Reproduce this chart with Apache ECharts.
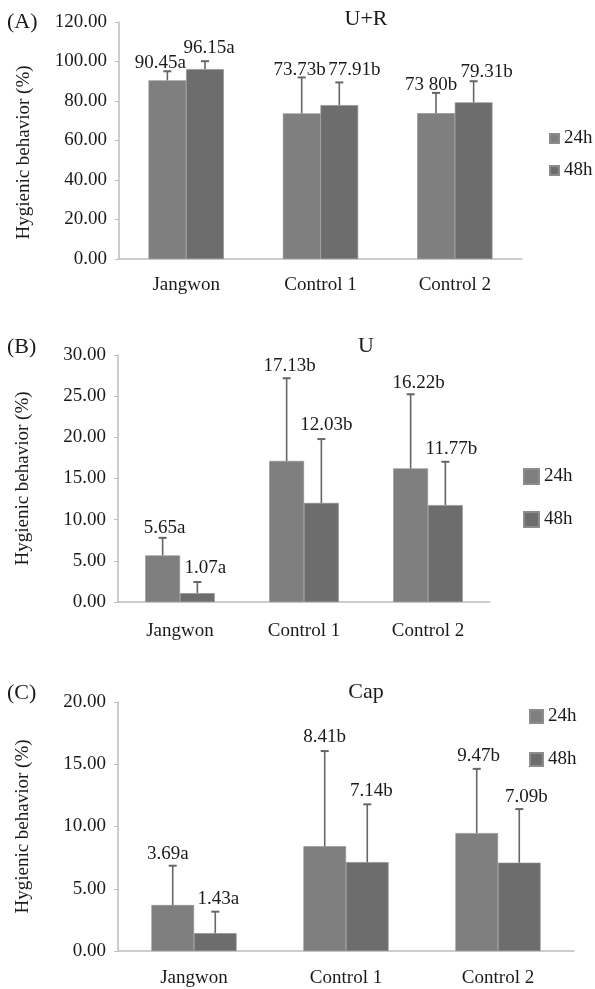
<!DOCTYPE html>
<html>
<head>
<meta charset="utf-8">
<script src="https://cdn.jsdelivr.net/npm/echarts@6/dist/echarts.min.js"></script>
<style>
  html, body { margin: 0; padding: 0; background: #fff; }
  #chart { width: 595px; height: 989px; }
</style>
</head>
<body>
<div id="chart"></div>
<script>
const categories = ['Jangwon', 'Control 1', 'Control 2']
const seriesNames = ['24h', '48h']

// (A) U+R
const meanA24 = [90.45, 73.73, 73.80]
const meanA48 = [96.15, 77.91, 79.31]
const errA24 = [4.6, 18.2, 10.3]
const errA48 = [4.0, 11.5, 10.7]
const labelsA24 = ['90.45a', '73.73b', '73 80b']
const labelsA48 = ['96.15a', '77.91b', '79.31b']

// (B) U
const meanB24 = [5.65, 17.13, 16.22]
const meanB48 = [1.07, 12.03, 11.77]
const errB24 = [2.14, 10.05, 9.01]
const errB48 = [1.36, 7.76, 5.26]
const labelsB24 = ['5.65a', '17.13b', '16.22b']
const labelsB48 = ['1.07a', '12.03b', '11.77b']

// (C) Cap
const meanC24 = [3.69, 8.41, 9.47]
const meanC48 = [1.43, 7.14, 7.09]
const errC24 = [3.16, 7.65, 5.16]
const errC48 = [1.73, 4.64, 4.31]
const labelsC24 = ['3.69a', '8.41b', '9.47b']
const labelsC48 = ['1.43a', '7.14b', '7.09b']

const FONT = '"Liberation Serif", "Times New Roman", serif'
const TXT = '#1a1a1a'
const COLORS = ['#7f7f7f', '#6d6d6d']

// layout of the three panels (positions only)
const panels = [
  {
    letter: '(A)', title: 'U+R', max: 120, interval: 20,
    grid: { left: 119, right: 73, top: 22, height: 237 },
    titleTop: 8, letterY: 22, catMargin: 17, namePad: [0, 24, 0, 0],
    legend: { left: 549, top: 129, size: 9, gap: 13 },
    means: [meanA24, meanA48], errs: [errA24, errA48], labels: [labelsA24, labelsA48],
    dx: [[-7, -2, -5], [4, 15, 13]], dy: [[-8, -7, -8], [-13, -12, -9]]
  },
  {
    letter: '(B)', title: 'U', max: 30, interval: 5,
    grid: { left: 118, right: 105, top: 355, height: 247 },
    titleTop: 335, letterY: 347, catMargin: 20, namePad: 0,
    legend: { left: 523, top: 467, size: 15, gap: 24 },
    means: [meanB24, meanB48], errs: [errB24, errB48], labels: [labelsB24, labelsB48],
    dx: [[2, 3, 8], [8, 5, 6]], dy: [[-10, -12, -11], [-14, -14, -13]]
  },
  {
    letter: '(C)', title: 'Cap', max: 20, interval: 5,
    grid: { left: 118, right: 21, top: 702, height: 249 },
    titleTop: 681, letterY: 693, catMargin: 18, namePad: 0,
    legend: { left: 529, top: 707, size: 13, gap: 24 },
    means: [meanC24, meanC48], errs: [errC24, errC48], labels: [labelsC24, labelsC48],
    dx: [[-5, 0, 2], [3, 4, 7]], dy: [[-12, -14, -13], [-13, -13, -12]]
  }
]

const myChart = echarts.init(document.getElementById('chart'))

const grids = [], xAxes = [], yAxes = [], titles = [], legends = [], series = [], graphics = []

panels.forEach((p, pi) => {
  grids.push(p.grid)
  xAxes.push({
    type: 'category', gridIndex: pi, data: categories,
    axisLine: { lineStyle: { color: '#bdbdbd', width: 1.5 } },
    axisTick: { show: false },
    axisLabel: { color: TXT, fontFamily: FONT, fontSize: 19, margin: p.catMargin }
  })
  yAxes.push({
    type: 'value', gridIndex: pi, min: 0, max: p.max, interval: p.interval,
    name: 'Hygienic behavior (%)', nameLocation: 'middle', nameGap: 85,
    nameTextStyle: { color: TXT, fontFamily: FONT, fontSize: 19, padding: p.namePad },
    axisLine: { show: true, lineStyle: { color: '#bdbdbd', width: 1.5 } },
    axisTick: { show: true, length: 4, lineStyle: { color: '#bdbdbd' } },
    splitLine: { show: false },
    axisLabel: { color: TXT, fontFamily: FONT, fontSize: 19, margin: 12, formatter: v => v.toFixed(2) }
  })
  titles.push({
    text: p.title, left: 366, top: p.titleTop, textAlign: 'center', padding: 0,
    textStyle: { color: TXT, fontFamily: FONT, fontSize: 22, fontWeight: 'normal' }
  })
  graphics.push({
    type: 'text', left: 7, top: p.letterY - 11,
    style: { text: p.letter, font: '22px ' + FONT, fill: TXT }
  })
  legends.push({
    data: seriesNames, orient: 'vertical', left: p.legend.left, top: p.legend.top,
    itemWidth: p.legend.size, itemHeight: p.legend.size, itemGap: p.legend.gap,
    icon: 'rect', padding: 0,
    textStyle: { color: TXT, fontFamily: FONT, fontSize: 19 }
  })

  seriesNames.forEach((name, si) => {
    series.push({
      name, type: 'bar', xAxisIndex: pi, yAxisIndex: pi,
      data: p.means[si], barGap: '0%', barCategoryGap: '44%',
      itemStyle: { color: COLORS[si], borderColor: '#8c8c8c', borderWidth: 0.6 }
    })
    const side = si === 0 ? -1 : 1
    series.push({
      name: 'err' + name, type: 'custom', xAxisIndex: pi, yAxisIndex: pi, z: 5,
      data: p.means[si].map((m, i) => [i, m, m + p.errs[si][i]]),
      renderItem: (params, api) => {
        const i = api.value(0)
        const band = api.size([1, 0])[0]
        const off = side * band * 0.14
        const base = api.coord([i, api.value(1)])
        const top = api.coord([i, api.value(2)])
        const x = base[0] + off
        const ls = { stroke: '#666', lineWidth: 1.6 }
        return {
          type: 'group',
          children: [
            { type: 'line', shape: { x1: x, y1: base[1], x2: x, y2: top[1] }, style: ls },
            { type: 'line', shape: { x1: x - 4, y1: top[1], x2: x + 4, y2: top[1] }, style: { stroke: '#666', lineWidth: 2 } },
            {
              type: 'text',
              style: {
                text: p.labels[si][params.dataIndex],
                x: x + p.dx[si][params.dataIndex], y: top[1] + p.dy[si][params.dataIndex],
                textAlign: 'center', textVerticalAlign: 'middle',
                font: '19px ' + FONT, fill: TXT
              }
            }
          ]
        }
      }
    })
  })
})

const option = {
  backgroundColor: '#fff',
  animation: false,
  color: COLORS,
  title: titles,
  legend: legends,
  grid: grids,
  xAxis: xAxes,
  yAxis: yAxes,
  graphic: graphics,
  series
}
myChart.setOption(option)
</script>
</body>
</html>
